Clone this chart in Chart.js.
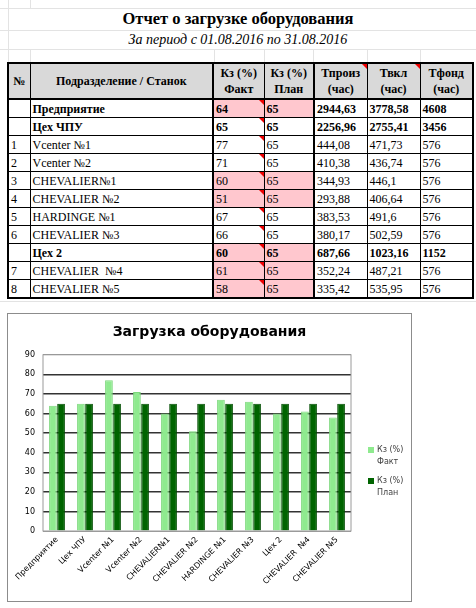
<!DOCTYPE html>
<html>
<head>
<meta charset="utf-8">
<script src="https://cdn.jsdelivr.net/npm/chart.js@4/dist/chart.umd.min.js"></script>
<style>
body { margin: 0; background: #fff; width: 476px; height: 608px; overflow: hidden; position: relative; font-family: "Liberation Serif", "Times New Roman", serif; }
.gl { position: absolute; background: #e3e3e3; }
.h1 { position: absolute; left: 0; width: 476px; top: 9px; text-align: center; font-weight: bold; font-size: 16.5px; }
.h2 { position: absolute; left: 0; width: 476px; top: 32px; text-align: center; font-style: italic; font-size: 14px; }
table { position: absolute; left: 7px; top: 62px; border-collapse: collapse; border: 2.5px solid #000; table-layout: fixed; font-size: 12px; }
td, th { border: 1px solid #000; padding: 0 2px; height: 17px; line-height: 14px; white-space: nowrap; overflow: hidden; text-align: left; position: relative; }
th { background: #d9d9d9; height: 34px; text-align: center; font-weight: bold; line-height: 16px; border-bottom: 2.5px solid #000; }
.thick { border-left: 2px solid #000; }
.b td { font-weight: bold; }
.pink { background: #ffc7ce; }
.c::after { content: ""; position: absolute; right: 0; top: 0; border-top: 5px solid #e00; border-left: 5px solid transparent; }
#box { position: absolute; left: 7px; top: 313px; width: 403px; height: 287px; border: 1px solid #8c8c8c; }
#leg { position: absolute; left: 368px; top: 444px; font-family: "DejaVu Sans", sans-serif; font-size: 8px; color: #404040; line-height: 12px; }
#leg div { position: relative; padding-left: 9px; margin-bottom: 7px; }
#leg span { position: absolute; left: 0; top: 3px; width: 6px; height: 6px; }
</style>
</head>
<body>
<div class="gl" style="left:0;top:8px;width:476px;height:1px"></div>
<div class="gl" style="left:0;top:30px;width:476px;height:1px"></div>
<div class="gl" style="left:0;top:49px;width:476px;height:1px"></div>
<div class="gl" style="left:8px;top:0;width:1px;height:62px"></div>
<div class="gl" style="left:30px;top:0;width:1px;height:8px"></div>
<div class="gl" style="left:30px;top:49px;width:1px;height:13px"></div>
<div class="gl" style="left:214px;top:49px;width:1px;height:13px"></div>
<div class="gl" style="left:264px;top:49px;width:1px;height:13px"></div>
<div class="gl" style="left:313px;top:49px;width:1px;height:13px"></div>
<div class="gl" style="left:367px;top:49px;width:1px;height:13px"></div>
<div class="gl" style="left:420px;top:49px;width:1px;height:13px"></div>
<div class="gl" style="left:0;top:301px;width:476px;height:1px"></div>

<div class="h1">Отчет о загрузке оборудования</div>
<div class="h2">За период с 01.08.2016 по 31.08.2016</div>

<table id="tbl">
<colgroup><col style="width:22px"><col style="width:183px"><col style="width:51px"><col style="width:50px"><col style="width:53px"><col style="width:53px"><col style="width:53px"></colgroup>
<thead><tr>
<th>№</th><th>Подразделение / Станок</th><th class="thick">Кз (%)<br>Факт</th><th>Кз (%)<br>План</th><th class="thick c">Тпроиз<br>(час)</th><th class="c">Твкл<br>(час)</th><th>Тфонд<br>(час)</th>
</tr></thead>
<tbody id="tb"></tbody>
</table>

<div id="box"><canvas id="chart" width="403" height="287"></canvas></div>
<div id="leg">
<div><span style="background:#8fea8f"></span>Кз (%)<br>Факт</div>
<div><span style="background:#006400"></span>Кз (%)<br>План</div>
</div>

<script>
// данные отчета
var nums = ['', '', '1', '2', '3', '4', '5', '6', '', '7', '8'];
var names = ['Предприятие', 'Цех ЧПУ', 'Vcenter №1', 'Vcenter №2', 'CHEVALIER№1', 'CHEVALIER №2', 'HARDINGE №1', 'CHEVALIER №3', 'Цех 2', 'CHEVALIER  №4', 'CHEVALIER №5'];
var bold = [true, true, false, false, false, false, false, false, true, false, false];
var fact = [64, 65, 77, 71, 60, 51, 67, 66, 60, 61, 58];
var plan = [65, 65, 65, 65, 65, 65, 65, 65, 65, 65, 65];
var tproiz = ['2944,63', '2256,96', '444,08', '410,38', '344,93', '293,88', '383,53', '380,17', '687,66', '352,24', '335,42'];
var tvkl = ['3778,58', '2755,41', '471,73', '436,74', '446,1', '406,64', '491,6', '502,59', '1023,16', '487,21', '535,95'];
var tfond = ['4608', '3456', '576', '576', '576', '576', '576', '576', '1152', '576', '576'];
var yTicks = { min: 0, max: 90, step: 10 };

// таблица
var html = '';
for (var i = 0; i < names.length; i++) {
    var pk = fact[i] < plan[i] ? ' pink' : '';
    html += '<tr' + (bold[i] ? ' class="b"' : '') + '>' +
        '<td>' + nums[i] + '</td>' +
        '<td>' + names[i].replace(/  /g, ' &nbsp;') + '</td>' +
        '<td class="thick c' + pk + '">' + fact[i] + '</td>' +
        '<td class="' + pk + '">' + plan[i] + '</td>' +
        '<td class="thick">' + tproiz[i] + '</td>' +
        '<td>' + tvkl[i] + '</td>' +
        '<td>' + tfond[i] + '</td></tr>';
}
document.getElementById('tb').innerHTML = html;

// рамка области построения
var frame = {
    id: 'frame',
    afterDraw: function(chart) {
        var a = chart.chartArea, c = chart.ctx;
        c.save();
        c.strokeStyle = '#9a9a9a';
        c.lineWidth = 1;
        c.strokeRect(a.left, a.top, a.right - a.left, a.bottom - a.top);
        c.restore();
    }
};

var ctx = document.getElementById('chart').getContext('2d');
new Chart(ctx, {
    type: 'bar',
    data: {
        labels: names,
        datasets: [{
            label: 'Кз (%) Факт',
            data: fact,
            backgroundColor: '#8fea8f',
            borderColor: '#7dd87d',
            borderWidth: 1,
            barPercentage: 0.95,
            categoryPercentage: 0.58
        },
        {
            label: 'Кз (%) План',
            data: plan,
            backgroundColor: '#006400',
            borderColor: '#004d00',
            borderWidth: 1,
            barPercentage: 0.95,
            categoryPercentage: 0.58
        }]
    },
    options: {
        responsive: false,
        animation: false,
        plugins: {
            legend: { display: false },
            tooltip: { enabled: false },
            title: {
                display: true,
                text: 'Загрузка оборудования',
                color: '#000',
                font: { family: 'DejaVu Sans', size: 14, weight: 'bold' },
                padding: { top: 10, bottom: 14 }
            }
        },
        scales: {
            x: {
                grid: { display: false, drawTicks: false },
                border: { display: false },
                ticks: {
                    color: '#000',
                    font: { family: 'DejaVu Sans', size: 8 },
                    minRotation: 45,
                    maxRotation: 45,
                    autoSkip: false,
                    padding: 4
                },
                afterFit: function(s) { s.height = 70; }
            },
            y: {
                min: yTicks.min,
                max: yTicks.max,
                ticks: {
                    stepSize: yTicks.step,
                    color: '#000',
                    font: { family: 'DejaVu Sans', size: 8 },
                    padding: 8
                },
                grid: {
                    drawTicks: false,
                    color: function(c) { return (c.tick.value === 0 || c.tick.value === 90) ? '#9a9a9a' : '#333'; },
                    lineWidth: function(c) { return (c.tick.value === 0 || c.tick.value === 90) ? 1 : 1.5; }
                },
                border: { display: false },
                afterFit: function(s) { s.width = 35; }
            },
            // пустое место справа под легенду
            space: {
                position: 'right',
                grid: { display: false, drawTicks: false },
                border: { display: false },
                ticks: { display: false },
                afterFit: function(s) { s.width = 60; }
            }
        }
    },
    plugins: [frame]
});
</script>
</body>
</html>
